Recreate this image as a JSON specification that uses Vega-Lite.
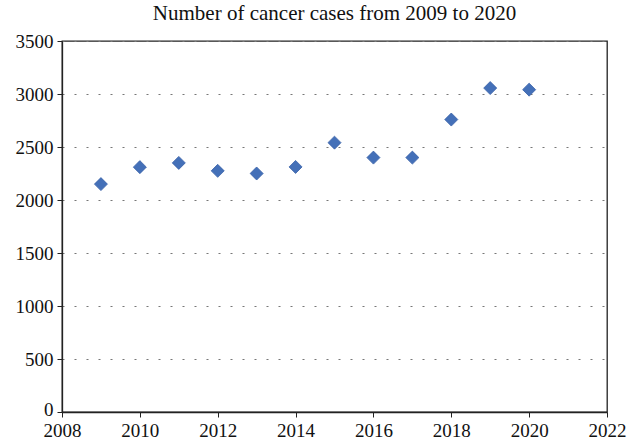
{
  "$schema": "https://vega.github.io/schema/vega-lite/v6.json",
  "autosize": "none",
  "width": 545,
  "height": 371,
  "padding": {"left": 62, "top": 41, "right": 22, "bottom": 28},
  "background": "white",
  "title": {
    "text": "Number of cancer cases from 2009 to 2020",
    "font": "Liberation Serif",
    "fontSize": 21,
    "fontWeight": "normal",
    "color": "#111",
    "anchor": "middle",
    "offset": 8
  },
  "config": {
    "view": {"stroke": "#222", "strokeWidth": 1.3},
    "axis": {
      "labelFont": "Liberation Serif",
      "labelFontSize": 19,
      "labelColor": "#111",
      "domainColor": "#222",
      "domainWidth": 1.3,
      "tickColor": "#222",
      "tickSize": 5,
      "labelFlush": false,
      "labelOverlap": false,
      "title": null
    }
  },
  "data": {
    "values": [
      {"year": 2009, "cases": 2150},
      {"year": 2010, "cases": 2310},
      {"year": 2011, "cases": 2350},
      {"year": 2012, "cases": 2275},
      {"year": 2013, "cases": 2250},
      {"year": 2014, "cases": 2312},
      {"year": 2015, "cases": 2541},
      {"year": 2016, "cases": 2400},
      {"year": 2017, "cases": 2400},
      {"year": 2018, "cases": 2759},
      {"year": 2019, "cases": 3056},
      {"year": 2020, "cases": 3041}
    ]
  },
  "mark": {"type": "point", "shape": "diamond", "filled": true, "size": 170, "color": "#4470B8", "opacity": 1, "stroke": "#3A62A8", "strokeWidth": 0.8},
  "encoding": {
    "x": {
      "field": "year",
      "type": "quantitative",
      "scale": {"domain": [2008, 2022], "nice": false, "zero": false},
      "axis": {"values": [2008, 2010, 2012, 2014, 2016, 2018, 2020, 2022], "format": "d", "grid": false, "labelPadding": 4}
    },
    "y": {
      "field": "cases",
      "type": "quantitative",
      "scale": {"domain": [0, 3500], "nice": false},
      "axis": {
        "values": [0, 500, 1000, 1500, 2000, 2500, 3000, 3500],
        "format": "d",
        "grid": true,
        "gridColor": "#777",
        "gridDash": [2, 10],
        "gridWidth": 1.2,
        "labelPadding": 4,
        "labelOffset": {"condition": {"test": "datum.value == 0", "value": -3}, "value": 0}
      }
    }
  }
}
